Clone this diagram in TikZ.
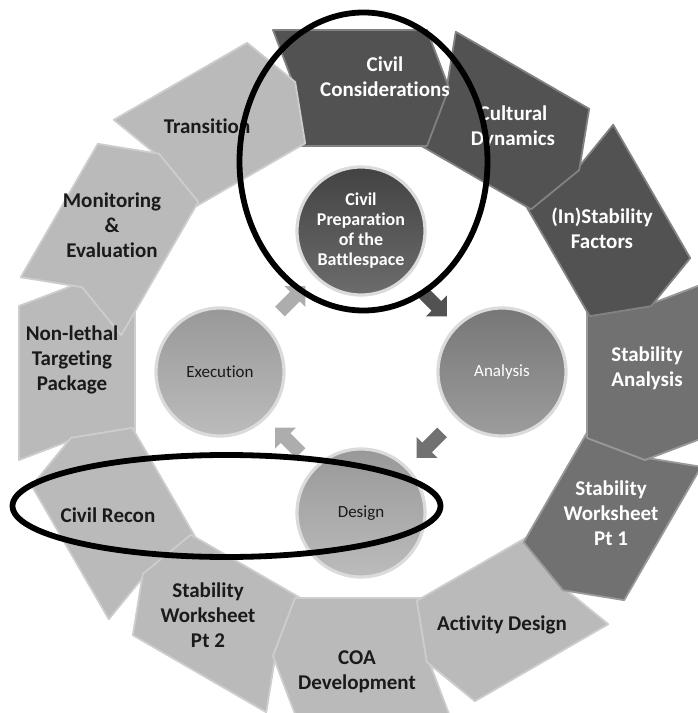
\documentclass[tikz,border=0pt]{standalone}
\usepackage{fontspec}
\setmainfont{Carlito}[Ligatures=NoCommon]
\usepackage{tikz}
\usetikzlibrary{shapes.arrows}

\definecolor{ringdark}{HTML}{525252}
\definecolor{ringmid}{HTML}{717171}
\definecolor{ringlight}{HTML}{BABABA}
\definecolor{hubdark}{HTML}{4C4C4C}
\definecolor{hubmid}{HTML}{878787}
\definecolor{hublight}{HTML}{ADADAD}
\definecolor{inktext}{HTML}{1A1A1A}

\begin{document}
\begin{tikzpicture}[
  x=0.5pt, y=0.5pt,
  % One chevron of the outer ring (tip points clockwise)
  ringseg/.pic={
    \path[fill=#1, draw=#1!72!white, line width=0.9pt, line join=round]
      (-88,342) -- (66,342) -- (88,284) -- (66,226)
      -- (-88,226) -- (-66,284) -- cycle;
  },
  % Ring labels
  seglabel/.style={font=\bfseries\fontsize{10.5}{12.6}\selectfont,
                   align=center, text=#1},
  % Inner process circles
  hub/.style={circle, minimum size=64pt, inner sep=0pt,
              top color=#1!88!black, bottom color=#1!82!white,
              draw=white!86!black, line width=1.6pt,
              font=\fontsize{8.5}{10}\selectfont, align=center},
  % Fat arrows between the circles
  flow/.style={single arrow, fill=#1, minimum height=18pt,
               inner sep=3.2pt, single arrow head extend=4pt},
  hlring/.style={line width=2.9pt, black}
]

\useasboundingbox (-361,-341) rectangle (336,372);
\fill[white] (-361,-341) rectangle (336,372);

%% ── Outer ring: twelve chevrons, each over its clockwise neighbour ──
\pic[rotate=90]  at (0,0) {ringseg=ringlight};  % Non-lethal
\pic[rotate=120] at (0,0) {ringseg=ringlight};  % Civil Recon
\pic[rotate=150] at (0,0) {ringseg=ringlight};  % Worksheet 2
\pic[rotate=180] at (0,0) {ringseg=ringlight};  % COA
\pic[rotate=210] at (0,0) {ringseg=ringlight};  % Activity Design
\pic[rotate=240] at (0,0) {ringseg=ringmid};    % Worksheet 1
\pic[rotate=270] at (0,0) {ringseg=ringmid};    % Stability Analysis
\pic[rotate=-60] at (0,0) {ringseg=ringdark};   % (In)Stability
\pic[rotate=-30] at (0,0) {ringseg=ringdark};   % Cultural
\pic[rotate=0]   at (0,0) {ringseg=ringdark};   % Civil Considerations
\pic[rotate=30]  at (0,0) {ringseg=ringlight};  % Transition
\pic[rotate=60]  at (0,0) {ringseg=ringlight};  % Monitoring
% close the seam: tip half of Non-lethal back on top
\begin{scope}[rotate=90]
  \clip (0,200) rectangle (130,360);
  \pic at (0,0) {ringseg=ringlight};
\end{scope}

%% ── Ring labels ─────────────────────────────────────────────
\node[seglabel=white]   (civcons)  at (24,295)    {Civil\\Considerations};
\node[seglabel=white]   (cultdyn)  at (152,245)   {Cultural\\Dynamics};
\node[seglabel=white]   (instab)   at (241,144)   {(In)Stability\\Factors};
\node[seglabel=white]   (stabana)  at (286,4)     {Stability\\Analysis};
\node[seglabel=white]   (stabws1)  at (250,-141)  {Stability\\Worksheet\\Pt 1};
\node[seglabel=inktext] (actdes)   at (141,-253)  {Activity Design};
\node[seglabel=inktext] (coadev)   at (-4,-300)   {COA\\Development};
\node[seglabel=inktext] (stabws2)  at (-153,-243) {Stability\\Worksheet\\Pt 2};
\node[seglabel=inktext] (civrecon) at (-253,-143) {Civil Recon};
\node[seglabel=inktext] (nonleth)  at (-289,12)   {Non-lethal\\Targeting\\Package};
\node[seglabel=inktext] (moneval)  at (-249,147)  {Monitoring\\\&\\Evaluation};
\node[seglabel=inktext] (transit)  at (-154,246)  {Transition};

%% ── Inner cycle ─────────────────────────────────────────────
\node[hub=hubdark, text=white, font=\bfseries\fontsize{9}{10}\selectfont]
      (civprep) at (0,141) {Civil\\Preparation\\of the\\Battlespace};
\node[hub=hubmid, text=white]     (analysis)  at (141,0)  {Analysis};
\node[hub=hublight, text=inktext] (design)    at (0,-141) {Design};
\node[hub=hublight, text=inktext] (execution) at (-141,0) {Execution};

\node[flow=ringdark, rotate=-45]  (toanalysis)  at (45:100)   {};
\node[flow=ringmid, rotate=-135]  (todesign)    at (-45:100)  {};
\node[flow=hublight, rotate=135]  (toexecution) at (-135:100) {};
\node[flow=hublight, rotate=45]   (tocivprep)   at (135:100)  {};

%% ── Hand-drawn highlight rings ──────────────────────────────
\draw[hlring] (2.5,210.5) ellipse [x radius=124, y radius=149];
\draw[hlring] (-134.5,-134) ellipse [x radius=214, y radius=51];

\end{tikzpicture}
\end{document}
